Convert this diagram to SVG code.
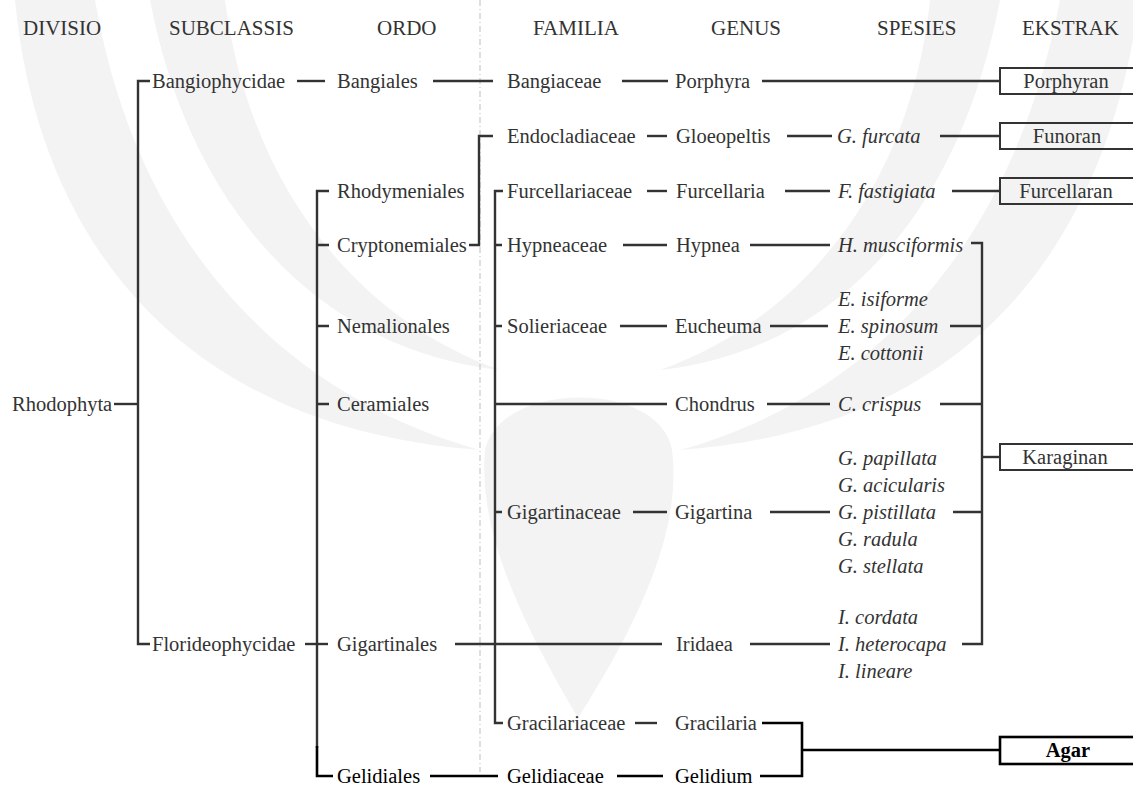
<svg xmlns="http://www.w3.org/2000/svg" width="1133" height="785" viewBox="0 0 1133 785">
<style>
  text { font-family: "Liberation Serif", "Times New Roman", serif; font-size: 20.5px; fill: #333; }
  .hd { font-size: 21px; }
  .sp { font-style: italic; }
  .dk { fill: #000; }
  .bx { fill: #000; font-weight: bold; }
  .ln { fill: none; stroke: #333; stroke-width: 2.4; }
  .lk { fill: none; stroke: #000; stroke-width: 2.6; }
  .box { fill: none; stroke: #333; stroke-width: 2; }
  .boxk { fill: none; stroke: #000; stroke-width: 2.6; }
  .wm { fill: #f3f3f3; stroke: none; }
  .fold { stroke: #c8c8c8; stroke-width: 1.2; stroke-dasharray: 6 3 1 3; fill: none; }
</style>
<rect width="1133" height="785" fill="#fff"/>
<g id="watermark">
  <path class="wm" d="M15 0 C40 260 200 430 480 450 C300 400 140 260 95 0 Z"/>
  <path class="wm" d="M150 0 C190 210 320 350 500 370 C360 320 250 190 225 0 Z"/>
  <path class="wm" d="M1133 40 C1090 270 950 430 680 450 C860 400 1010 260 1060 0 H1133 Z"/>
  <path class="wm" d="M1000 0 C960 210 840 350 660 370 C800 320 910 190 930 0 Z"/>
  <path class="wm" d="M578 718 C520 620 478 530 485 450 C500 380 660 380 672 450 C682 530 640 620 578 718 Z"/>
</g>
<line id="fold" class="fold" x1="480" y1="0" x2="480" y2="772"/>
<g id="headers">
  <text class="hd" x="23" y="35">DIVISIO</text>
  <text class="hd" x="169" y="35">SUBCLASSIS</text>
  <text class="hd" x="377" y="35">ORDO</text>
  <text class="hd" x="533" y="35">FAMILIA</text>
  <text class="hd" x="711" y="35">GENUS</text>
  <text class="hd" x="877" y="35">SPESIES</text>
  <text class="hd" x="1022" y="35">EKSTRAK</text>
</g>
<g id="connectors">
  <path class="ln" d="M114 404 H138"/>
  <path class="ln" d="M150 81 H138 V644 H150"/>
  <path class="ln" d="M297 81 H325"/>
  <path class="ln" d="M433 81 H493"/>
  <path class="ln" d="M622 81 H668"/>
  <path class="ln" d="M762 81 H1000"/>
  <path class="ln" d="M305 644 H328"/>
  <path class="ln" d="M329 191 H317 V748"/>
  <path class="lk" d="M317 746 V776 H333"/>
  <path class="ln" d="M317 245 H329 M317 326 H329 M317 404 H329"/>
  <path class="ln" d="M469 245 H479 V136 H493"/>
  <path class="ln" d="M647 136 H667"/>
  <path class="ln" d="M787 136 H832"/>
  <path class="ln" d="M940 136 H1000"/>
  <path class="ln" d="M503 191 H495 V723 H503"/>
  <path class="ln" d="M495 245 H502 M495 326 H502 M495 512 H502"/>
  <path class="ln" d="M495 404 H667"/>
  <path class="ln" d="M455 644 H662"/>
  <path class="ln" d="M647 191 H667"/>
  <path class="ln" d="M785 191 H830"/>
  <path class="ln" d="M952 191 H1000"/>
  <path class="ln" d="M623 245 H667"/>
  <path class="ln" d="M750 245 H830"/>
  <path class="ln" d="M620 326 H667"/>
  <path class="ln" d="M770 326 H828"/>
  <path class="ln" d="M767 404 H830"/>
  <path class="ln" d="M633 512 H667"/>
  <path class="ln" d="M770 512 H830"/>
  <path class="ln" d="M750 644 H830"/>
  <path class="ln" d="M971 243 H982 V644 H962"/>
  <path class="ln" d="M950 326 H982 M940 404 H982 M953 512 H982"/>
  <path class="ln" d="M982 457 H1000"/>
  <path class="ln" d="M635 723 H657"/>
  <path class="lk" d="M430 776 H498"/>
  <path class="lk" d="M617 776 H663"/>
  <path class="lk" d="M762 723 H802 V776 H760 M802 750 H1000"/>
</g>
<g id="n-rhodophyta"><text x="12" y="411">Rhodophyta</text></g>
<g id="n-bangiophycidae"><text x="152" y="88">Bangiophycidae</text></g>
<g id="n-florideophycidae"><text x="152" y="651">Florideophycidae</text></g>
<g id="n-bangiales"><text x="337" y="88">Bangiales</text></g>
<g id="n-rhodymeniales"><text x="337" y="198">Rhodymeniales</text></g>
<g id="n-cryptonemiales"><text x="337" y="252">Cryptonemiales</text></g>
<g id="n-nemalionales"><text x="337" y="333">Nemalionales</text></g>
<g id="n-ceramiales"><text x="337" y="411">Ceramiales</text></g>
<g id="n-gigartinales"><text x="337" y="651">Gigartinales</text></g>
<g id="n-gelidiales"><text class="dk" x="337" y="783">Gelidiales</text></g>
<g id="n-bangiaceae"><text x="507" y="88">Bangiaceae</text></g>
<g id="n-endocladiaceae"><text x="507" y="143">Endocladiaceae</text></g>
<g id="n-furcellariaceae"><text x="507" y="198">Furcellariaceae</text></g>
<g id="n-hypneaceae"><text x="507" y="252">Hypneaceae</text></g>
<g id="n-solieriaceae"><text x="507" y="333">Solieriaceae</text></g>
<g id="n-gigartinaceae"><text x="507" y="519">Gigartinaceae</text></g>
<g id="n-gracilariaceae"><text x="507" y="730">Gracilariaceae</text></g>
<g id="n-gelidiaceae"><text class="dk" x="507" y="783">Gelidiaceae</text></g>
<g id="n-porphyra"><text x="675" y="88">Porphyra</text></g>
<g id="n-gloeopeltis"><text x="676" y="143">Gloeopeltis</text></g>
<g id="n-furcellaria"><text x="676" y="198">Furcellaria</text></g>
<g id="n-hypnea"><text x="676" y="252">Hypnea</text></g>
<g id="n-eucheuma"><text x="675" y="333">Eucheuma</text></g>
<g id="n-chondrus"><text x="675" y="411">Chondrus</text></g>
<g id="n-gigartina"><text x="675" y="519">Gigartina</text></g>
<g id="n-iridaea"><text x="676" y="651">Iridaea</text></g>
<g id="n-gracilaria"><text x="675" y="730">Gracilaria</text></g>
<g id="n-gelidium"><text class="dk" x="675" y="783">Gelidium</text></g>
<g id="n-gfurcata"><text class="sp" x="837" y="143">G. furcata</text></g>
<g id="n-ffastigiata"><text class="sp" x="838" y="198">F. fastigiata</text></g>
<g id="n-hmusciformis"><text class="sp" x="838" y="252">H. musciformis</text></g>
<g id="n-eucheuma-spp">
  <text class="sp" x="838" y="306">E. isiforme</text>
  <text class="sp" x="838" y="333">E. spinosum</text>
  <text class="sp" x="838" y="360">E. cottonii</text>
</g>
<g id="n-ccrispus"><text class="sp" x="838" y="411">C. crispus</text></g>
<g id="n-gigartina-spp">
  <text class="sp" x="838" y="465">G. papillata</text>
  <text class="sp" x="838" y="492">G. acicularis</text>
  <text class="sp" x="838" y="519">G. pistillata</text>
  <text class="sp" x="838" y="546">G. radula</text>
  <text class="sp" x="838" y="573">G. stellata</text>
</g>
<g id="n-iridaea-spp">
  <text class="sp" x="838" y="624">I. cordata</text>
  <text class="sp" x="838" y="651">I. heterocapa</text>
  <text class="sp" x="838" y="678">I. lineare</text>
</g>
<g id="n-porphyran"><rect class="box" x="1000" y="68" width="140" height="26"/><text x="1066" y="88" text-anchor="middle">Porphyran</text></g>
<g id="n-funoran"><rect class="box" x="1000" y="123" width="140" height="26"/><text x="1067" y="143" text-anchor="middle">Funoran</text></g>
<g id="n-furcellaran"><rect class="box" x="1000" y="178" width="140" height="26"/><text x="1066" y="198" text-anchor="middle">Furcellaran</text></g>
<g id="n-karaginan"><rect class="box" x="1000" y="444" width="140" height="26"/><text x="1065" y="464" text-anchor="middle">Karaginan</text></g>
<g id="n-agar"><rect class="boxk" x="1000" y="737" width="140" height="27"/><text class="bx" x="1068" y="757" text-anchor="middle">Agar</text></g>
</svg>
